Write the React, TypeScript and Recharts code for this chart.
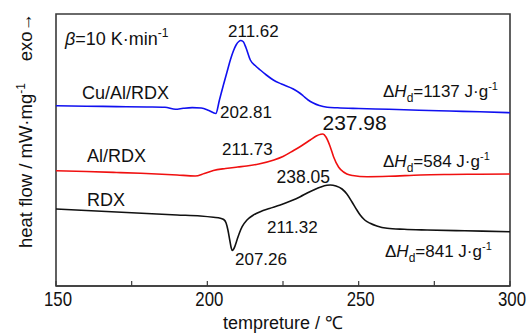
import React from "react";
import { LineChart, Line, XAxis, YAxis, ReferenceArea } from "recharts";

// temperatures (°C) and heat flow (arbitrary units, curves stacked)
const cuAlRdxT = [150, 160, 170, 180, 186, 189.5, 192, 195, 198, 200.5, 202.8, 204, 205.4, 206.5, 207.6, 208.6, 209.5, 210.4, 211.0, 211.8, 212.8, 214.2, 215.8, 217.5, 219.5, 221.8, 224.5, 228.4, 230.5, 231.7, 233.3, 235, 237, 239.6, 243, 250, 260, 270, 280, 290, 300];
const cuAlRdxV = [180.3, 179.8, 179.4, 179, 178.7, 176.7, 177.7, 178.4, 178, 175.5, 172.5, 186, 202, 214, 226, 235, 241, 244.5, 245.5, 244.5, 238, 226, 220.5, 216, 211, 206, 202, 197, 193, 190, 186, 183, 180.5, 178.8, 178.2, 177.5, 176.7, 175.8, 175, 174.2, 173.3];

const alRdxT = [150, 160, 170, 178, 185, 190, 196, 199, 202, 206, 210, 213, 217, 222, 225, 228.5, 231, 234, 236, 237.5, 238.2, 239.2, 240.6, 241.7, 243.4, 245, 246.1, 248, 252.8, 260, 270.4, 280, 290, 300];
const alRdxV = [115.3, 114.5, 113.5, 112.7, 111.8, 111, 110, 112.5, 115.5, 117.5, 119, 120, 122, 126, 129.5, 135.5, 140, 146, 150, 151.7, 152, 149, 139.3, 129.3, 118.7, 114, 112, 110.5, 109.3, 109.7, 111, 111.5, 111.8, 112];

const rdxT = [150, 160, 170, 180, 190, 197.7, 202, 204.3, 205.4, 206.2, 206.8, 207.4, 207.9, 208.3, 208.8, 209.8, 210.6, 211.5, 213.1, 215, 217.5, 220.5, 224.1, 227.5, 230.7, 233, 235.1, 237.5, 239.5, 240.6, 242.5, 244.5, 246.1, 247.8, 249.4, 250.5, 252, 253.8, 256, 259.4, 265, 272.6, 285, 300];
const rdxV = [77, 75.5, 74, 72.5, 71, 70, 68.7, 67.7, 66.5, 63, 56, 46, 38, 35.5, 37.5, 46, 53, 59.3, 66, 70.5, 74.3, 77.5, 81, 85, 89.3, 93, 96, 99, 100.7, 101, 100, 97, 92, 84, 76, 71, 66, 62.7, 60, 57.7, 56.7, 56, 55.2, 54.3];

const xTicks = [150, 175, 200, 225, 250, 275, 300];
const xLabelTicks = [150, 200, 250, 300];
const xDomain: [number, number] = [150, 300];
const yDomain: [number, number] = [0, 272];

const toRows = (t: number[], v: number[]) => t.map((x, i) => ({ t: x, v: v[i] }));
const blueData = toRows(cuAlRdxT, cuAlRdxV);
const redData = toRows(alRdxT, alRdxV);
const blackData = toRows(rdxT, rdxV);

const FONT = "'Liberation Sans', Arial, sans-serif";
const FRAME = "#3a3a3a";

const Tick = (props: any) => {
  const { x, y, payload } = props;
  const show = xLabelTicks.includes(payload.value);
  return (
    <g>
      <line x1={x} x2={x} y1={y} y2={y - 5} stroke={FRAME} strokeWidth={1.2} />
      {show && (
        <text
          x={x + 2}
          y={y + 20.5}
          textAnchor="middle"
          fontSize={20}
          fill="#111"
          fontFamily={FONT}
          transform={`translate(${x + 2},0) scale(0.84,1) translate(${-(x + 2)},0)`}
        >
          {payload.value}
        </text>
      )}
    </g>
  );
};

const txt = { fontFamily: FONT, fill: "#111" } as const;

const DeltaH = ({ x, y, val }: { x: number; y: number; val: string }) => (
  <text x={x} y={y} fontSize={17} {...txt}>
    Δ<tspan fontStyle="italic">H</tspan>
    <tspan fontSize={12} dy={5}>d</tspan>
    <tspan dy={-5}>={val} J·g</tspan>
    <tspan fontSize={11} dy={-7}>-1</tspan>
  </text>
);

export default function App() {
  return (
    <div style={{ position: "absolute", left: 0, top: 0, width: 527, height: 335, background: "#fff" }}>
      <LineChart width={527} height={335} margin={{ top: 14, right: 17, bottom: 0, left: 56 }}>
        <XAxis
          xAxisId="b"
          type="number"
          dataKey="t"
          domain={xDomain}
          ticks={xTicks}
          height={49}
          tickSize={0}
          tickMargin={0}
          tickLine={false}
          tick={<Tick />}
          interval={0}
          axisLine={{ stroke: FRAME, strokeWidth: 1.6 }}
          allowDataOverflow
        />
        <YAxis
          yAxisId="l"
          type="number"
          domain={yDomain}
          width={0}
          tick={false}
          tickLine={false}
          axisLine={{ stroke: FRAME, strokeWidth: 1.6 }}
          allowDataOverflow
        />
        <ReferenceArea
          xAxisId="b"
          yAxisId="l"
          x1={xDomain[0]}
          x2={xDomain[1]}
          y1={yDomain[0]}
          y2={yDomain[1]}
          fill="none"
          fillOpacity={0}
          stroke={FRAME}
          strokeWidth={1.6}
          ifOverflow="visible"
        />
        <Line xAxisId="b" yAxisId="l" data={blueData} dataKey="v" type="monotone" stroke="#1010f0" strokeWidth={1.6} dot={false} isAnimationActive={false} />
        <Line xAxisId="b" yAxisId="l" data={redData} dataKey="v" type="monotone" stroke="#f01010" strokeWidth={1.6} dot={false} isAnimationActive={false} />
        <Line xAxisId="b" yAxisId="l" data={blackData} dataKey="v" type="monotone" stroke="#111" strokeWidth={1.6} dot={false} isAnimationActive={false} />
      </LineChart>
      <svg width={527} height={335} style={{ position: "absolute", left: 0, top: 0, pointerEvents: "none" }}>
        <text x={65} y={45} fontSize={18} {...txt}>
          <tspan fontStyle="italic">β</tspan>=10 K·min
          <tspan fontSize={12} dy={-8}>-1</tspan>
        </text>
        <text x={82} y={99} fontSize={18} {...txt}>Cu/Al/RDX</text>
        <text x={87} y={162} fontSize={18} {...txt}>Al/RDX</text>
        <text x={87} y={206} fontSize={18} {...txt}>RDX</text>
        <text x={228} y={36.5} fontSize={17} {...txt}>211.62</text>
        <text x={220} y={117.5} fontSize={17} {...txt}>202.81</text>
        <text x={222} y={155} fontSize={17} {...txt}>211.73</text>
        <text x={322.5} y={129.5} fontSize={21} {...txt}>237.98</text>
        <text x={276.5} y={183} fontSize={17.5} {...txt}>238.05</text>
        <text x={267} y={232.5} fontSize={17} {...txt}>211.32</text>
        <text x={235} y={265} fontSize={17} {...txt}>207.26</text>
        <DeltaH x={383} y={96.5} val="1137" />
        <DeltaH x={383} y={166.5} val="584" />
        <DeltaH x={385} y={256.5} val="841" />
        <text x={283} y={329} fontSize={18} textAnchor="middle" {...txt}>tempreture / ℃</text>
        <text x={32} y={248} fontSize={18.5} transform="rotate(-90, 32, 248)" {...txt}>
          heat flow / mW·mg<tspan fontSize={12} dy={-7}>-1</tspan>
        </text>
        <text x={32} y={13} fontSize={18.5} textAnchor="end" transform="rotate(-90, 32, 13)" {...txt}>
          exo→
        </text>
      </svg>
    </div>
  );
}
